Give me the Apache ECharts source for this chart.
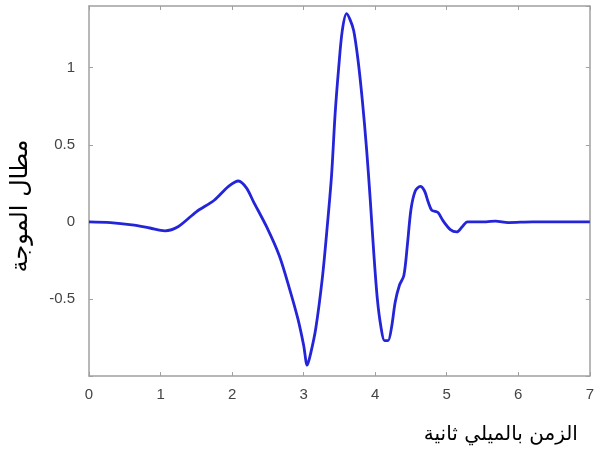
<!DOCTYPE html>
<html><head><meta charset="utf-8">
<script src="https://cdn.jsdelivr.net/npm/echarts@6/dist/echarts.min.js"></script>
<style>html,body{margin:0;padding:0;background:#fff}#c{width:597px;height:455px}</style>
</head><body><div id="c"></div>
<script>
var timeMs = [0, 0.3, 0.6, 0.85, 1.06, 1.25, 1.5, 1.75, 1.95, 2.09, 2.2, 2.3, 2.48, 2.66, 2.80, 2.92, 3.0, 3.05, 3.10, 3.17, 3.26, 3.33, 3.39, 3.44, 3.49, 3.54, 3.60, 3.65, 3.70, 3.76, 3.82, 3.88, 3.93, 3.98, 4.03, 4.08, 4.13, 4.18, 4.23, 4.28, 4.34, 4.40, 4.45, 4.50, 4.56, 4.63, 4.69, 4.74, 4.79, 4.84, 4.88, 4.95, 5.05, 5.14, 5.22, 5.29, 5.40, 5.55, 5.68, 5.86, 6.2, 7.0];
var amplitude = [0, -0.005, -0.02, -0.04, -0.058, -0.03, 0.065, 0.14, 0.23, 0.265, 0.22, 0.13, -0.03, -0.22, -0.43, -0.63, -0.80, -0.93, -0.85, -0.69, -0.37, -0.03, 0.30, 0.70, 1.00, 1.24, 1.35, 1.31, 1.24, 1.05, 0.79, 0.47, 0.15, -0.20, -0.50, -0.68, -0.77, -0.77, -0.68, -0.52, -0.41, -0.35, -0.15, 0.08, 0.20, 0.23, 0.20, 0.13, 0.075, 0.068, 0.06, 0.006, -0.05, -0.065, -0.03, 0.0, 0.0, 0.0, 0.005, -0.005, 0, 0];
var xTicks = [0, 1, 2, 3, 4, 5, 6, 7];
var yTickLabels = [-0.5, 0, 0.5, 1];
var xName = 'الزمن بالميلي ثانية';
var yName = 'مطال الموجة';

var pts = timeMs.map(function (t, i) { return [t, amplitude[i]]; });
var frame = '#a0a0a0';
var labelStyle = { color: '#444', fontSize: 15, fontFamily: 'Liberation Sans, Arial, sans-serif' };
function yFmt(v) {
  for (var i = 0; i < yTickLabels.length; i++) if (Math.abs(v - yTickLabels[i]) < 1e-9) return String(yTickLabels[i]);
  return '';
}
var lineCfg = { show: true, onZero: false, lineStyle: { color: frame, width: 1.5 } };
var tickCfg = { show: true, inside: true, length: 4, lineStyle: { color: frame } };
var chart = echarts.init(document.getElementById('c'));
chart.setOption({
  animation: false,
  grid: { left: 89, top: 6, right: 5, bottom: 79, show: false },
  xAxis: [{
    type: 'value', min: 0, max: 7, interval: 1,
    axisLine: lineCfg, axisTick: tickCfg,
    axisLabel: Object.assign({ margin: 11, formatter: function (v) { return xTicks.indexOf(v) >= 0 ? String(v) : ''; } }, labelStyle),
    splitLine: { show: false },
    name: xName, nameLocation: 'end', nameGap: -12,
    nameTextStyle: { align: 'right', verticalAlign: 'top', padding: [49, 0, 0, 0], fontSize: 20, color: '#000', fontFamily: 'DejaVu Sans, Arial, sans-serif' }
  }, {
    type: 'value', position: 'top', min: 0, max: 7, interval: 1,
    axisLine: lineCfg, axisTick: tickCfg,
    axisLabel: { show: false }, splitLine: { show: false }
  }],
  yAxis: [{
    type: 'value', min: -1, max: 1.4, interval: 0.5,
    axisLine: lineCfg, axisTick: tickCfg,
    axisLabel: Object.assign({ margin: 14, formatter: yFmt, showMaxLabel: false }, labelStyle),
    splitLine: { show: false },
    name: yName, nameLocation: 'middle', nameGap: 56,
    nameTextStyle: { fontSize: 24, color: '#000', padding: [0, 30, 0, 0], fontFamily: 'DejaVu Sans, Arial, sans-serif' }
  }, {
    type: 'value', position: 'right', min: -1, max: 1.4, interval: 0.5,
    axisLine: lineCfg, axisTick: tickCfg,
    axisLabel: { show: false }, splitLine: { show: false }
  }],
  series: [{
    type: 'line', data: pts, showSymbol: false, smooth: 0.3,
    lineStyle: { color: '#2424d8', width: 2.8 }
  }]
});
</script></body></html>
